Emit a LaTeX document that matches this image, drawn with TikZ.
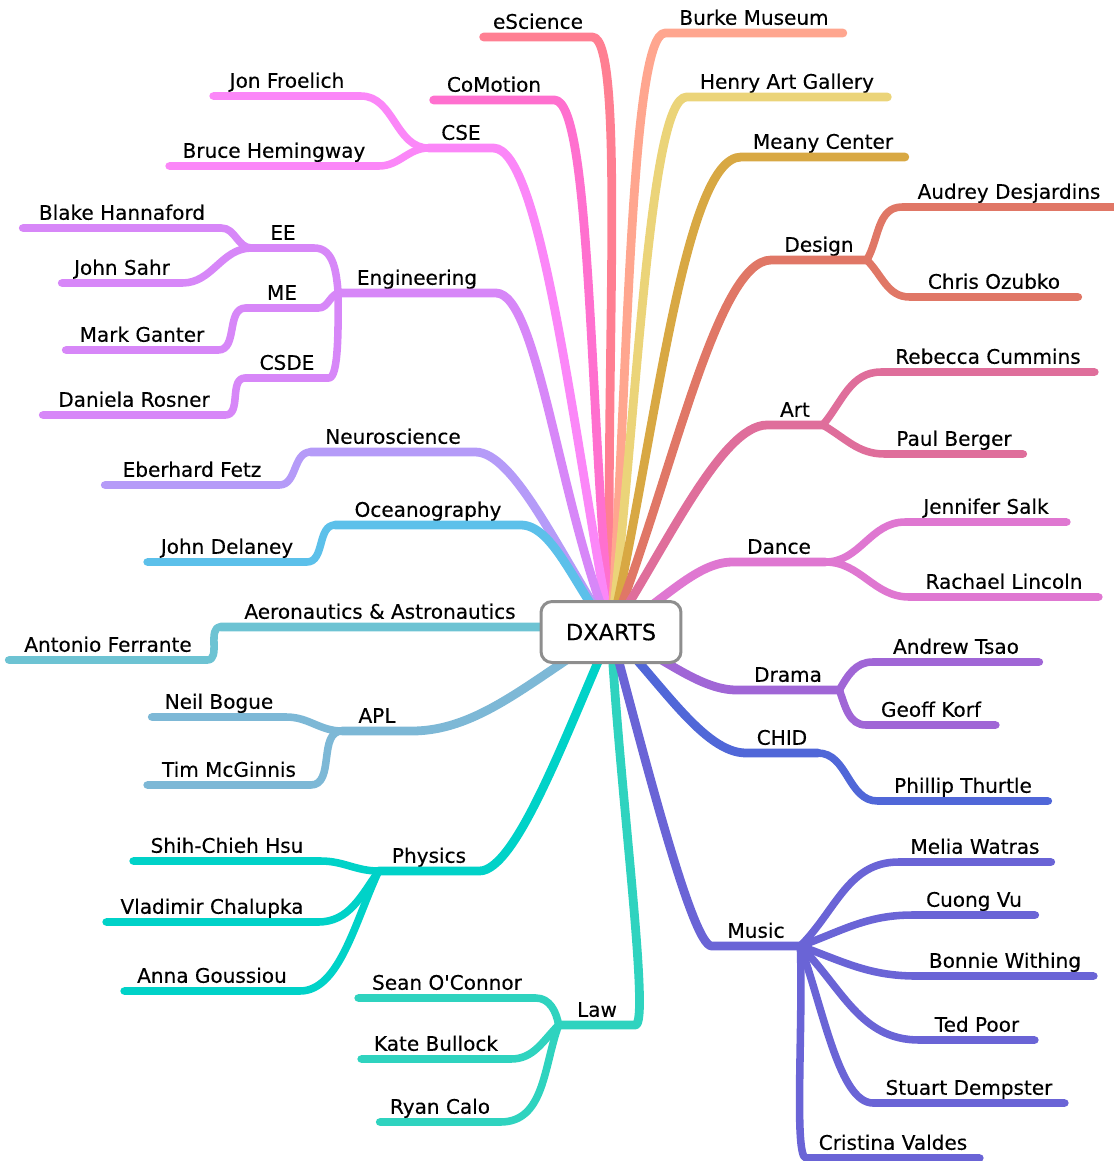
\documentclass[tikz,border=0pt]{standalone}
\usepackage{fontspec}
\setmainfont{DejaVu Sans}
\newfontfamily\lblfont{DejaVu Sans}[FakeBold=0.3]
\definecolor{cEScience}{HTML}{FF7F92}
\definecolor{cCoMotion}{HTML}{FF70CF}
\definecolor{cCSE}{HTML}{FB87F8}
\definecolor{cEng}{HTML}{D787F8}
\definecolor{cNeuro}{HTML}{B59BF8}
\definecolor{cOcean}{HTML}{5CC0EA}
\definecolor{cAero}{HTML}{6DC3D3}
\definecolor{cAPL}{HTML}{7DB8D6}
\definecolor{cPhysics}{HTML}{00D2C8}
\definecolor{cLaw}{HTML}{2FD3BF}
\definecolor{cBurke}{HTML}{FFA68F}
\definecolor{cHenry}{HTML}{EBD479}
\definecolor{cMeany}{HTML}{D8A843}
\definecolor{cDesign}{HTML}{E07766}
\definecolor{cArt}{HTML}{DF6E9B}
\definecolor{cDance}{HTML}{DF77D1}
\definecolor{cDrama}{HTML}{A066D6}
\definecolor{cCHID}{HTML}{5067D8}
\definecolor{cMusic}{HTML}{6A64D6}
\definecolor{cBox}{HTML}{8E8E8E}
\begin{document}
\begin{tikzpicture}[x=0.02cm,y=-0.02cm,line cap=round,line join=round,
		topic/.style={anchor=south,inner xsep=0pt,inner ysep=1.5pt,text height=8.5pt,text depth=3pt,font=\lblfont\fontsize{11.4}{13}\selectfont},
		len/.style={minimum width=#1*0.02cm},
		main/.style={line width=5pt},
		sub/.style={line width=4.3pt}]
	\useasboundingbox (0,0) rectangle (1114,1161);
	\coordinate (hub) at (611,632);
	% left side
	\node[topic,len=108] (escience) at (538,37) {eScience};
	\node[topic,len=120] (comotion) at (494,100) {CoMotion};
	\node[topic,len=64] (cse) at (461,148) {CSE};
	\node[topic,len=147] (jon) at (287,96) {Jon Froelich};
	\node[topic,len=209] (bruce) at (274,166) {Bruce Hemingway};
	\node[topic,len=157] (eng) at (417,293) {Engineering};
	\node[topic,len=62] (ee) at (283,248) {EE};
	\node[topic,len=198] (blake) at (122,228) {Blake Hannaford};
	\node[topic,len=120] (sahr) at (122,283) {John Sahr};
	\node[topic,len=72] (me) at (282,308) {ME};
	\node[topic,len=152] (ganter) at (142,350) {Mark Ganter};
	\node[topic,len=83] (csde) at (287,378) {CSDE};
	\node[topic,len=182] (rosner) at (134,415) {Daniela Rosner};
	\node[topic,len=164] (neuro) at (393,452) {Neuroscience};
	\node[topic,len=174] (fetz) at (192,485) {Eberhard Fetz};
	\node[topic,len=185] (ocean) at (428,525) {Oceanography};
	\node[topic,len=159] (delaney) at (227,562) {John Delaney};
	\node[topic,len=318] (aero) at (380,627) {Aeronautics \& Astronautics};
	\node[topic,len=198] (ferrante) at (108,660) {Antonio Ferrante};
	\node[topic,len=69] (apl) at (377,731) {APL};
	\node[topic,len=134] (bogue) at (219,717) {Neil Bogue};
	\node[topic,len=163] (mcginnis) at (229,785) {Tim McGinnis};
	\node[topic,len=100] (physics) at (429,871) {Physics};
	\node[topic,len=187] (hsu) at (227,861) {Shih-Chieh Hsu};
	\node[topic,len=211] (chalupka) at (212,922) {Vladimir Chalupka};
	\node[topic,len=175] (goussiou) at (212,991) {Anna Goussiou};
	\node[topic,len=76] (law) at (597,1025) {Law};
	\node[topic,len=177] (oconnor) at (447,998) {Sean O\textquotesingle Connor};
	\node[topic,len=149] (bullock) at (436,1059) {Kate Bullock};
	\node[topic,len=120] (calo) at (440,1122) {Ryan Calo};
	% right side
	\node[topic,len=177] (burke) at (754,33) {Burke Museum};
	\node[topic,len=200] (henry) at (787,97) {Henry Art Gallery};
	\node[topic,len=163] (meany) at (823,157) {Meany Center};
	\node[topic,len=95] (design) at (819,260) {Design};
	\node[topic,len=213] (desjardins) at (1009,207) {Audrey Desjardins};
	\node[topic,len=168] (ozubko) at (994,297) {Chris Ozubko};
	\node[topic,len=55] (art) at (795,425) {Art};
	\node[topic,len=213] (cummins) at (988,372) {Rebecca Cummins};
	\node[topic,len=138] (berger) at (954,454) {Paul Berger};
	\node[topic,len=92] (dance) at (779,562) {Dance};
	\node[topic,len=161] (salk) at (986,522) {Jennifer Salk};
	\node[topic,len=189] (lincoln) at (1004,597) {Rachael Lincoln};
	\node[topic,len=102] (drama) at (788,690) {Drama};
	\node[topic,len=166] (tsao) at (956,662) {Andrew Tsao};
	\node[topic,len=129] (korf) at (931,725) {Geoff Korf};
	\node[topic,len=71] (chid) at (782,753) {CHID};
	\node[topic,len=170] (thurtle) at (963,801) {Phillip Thurtle};
	\node[topic,len=88] (music) at (756,946) {Music};
	\node[topic,len=152] (watras) at (975,862) {Melia Watras};
	\node[topic,len=122] (vu) at (974,915) {Cuong Vu};
	\node[topic,len=177] (withing) at (1005,976) {Bonnie Withing};
	\node[topic,len=115] (poor) at (977,1040) {Ted Poor};
	\node[topic,len=191] (dempster) at (969,1103) {Stuart Dempster};
	\node[topic,len=173] (valdes) at (893,1158) {Cristina Valdes};
	% branches to the left
	\draw[main,cEScience] (hub) to[out=92,in=0,in looseness=0.15] (escience.south east) -- (escience.south west);
	\draw[main,cCoMotion] (hub) to[out=96,in=0,in looseness=0.18] (comotion.south east) -- (comotion.south west);
	\draw[main,cCSE] (hub) to[out=101,in=0,in looseness=0.25] (cse.south east) -- (cse.south west);
	\draw[sub,cCSE] (cse.south west) to[out=180,in=0] (jon.south east) -- (jon.south west);
	\draw[sub,cCSE] (cse.south west) to[out=180,in=0] (bruce.south east) -- (bruce.south west);
	\draw[main,cEng] (hub) to[out=112,in=0,in looseness=0.3] (eng.south east) -- (eng.south west);
	\draw[sub,cEng] (eng.south west) to[out=95,in=0] (ee.south east) -- (ee.south west);
	\draw[sub,cEng] (ee.south west) to[out=180,in=0] (blake.south east) -- (blake.south west);
	\draw[sub,cEng] (ee.south west) to[out=180,in=0] (sahr.south east) -- (sahr.south west);
	\draw[sub,cEng] (eng.south west) to[out=200,in=0] (me.south east) -- (me.south west);
	\draw[sub,cEng] (me.south west) to[out=180,in=0] (ganter.south east) -- (ganter.south west);
	\draw[sub,cEng] (eng.south west) to[out=-90,in=0,in looseness=0.3] (csde.south east) -- (csde.south west);
	\draw[sub,cEng] (csde.south west) to[out=180,in=0] (rosner.south east) -- (rosner.south west);
	\draw[main,cNeuro] (hub) to[out=124,in=0,in looseness=0.45] (neuro.south east) -- (neuro.south west);
	\draw[sub,cNeuro] (neuro.south west) to[out=180,in=0] (fetz.south east) -- (fetz.south west);
	\draw[main,cOcean] (hub) to[out=130,in=0,in looseness=0.6] (ocean.south east) -- (ocean.south west);
	\draw[sub,cOcean] (ocean.south west) to[out=180,in=0] (delaney.south east) -- (delaney.south west);
	\draw[main,cAero] (hub) -- (aero.south east) -- (aero.south west);
	\draw[sub,cAero] (aero.south west) to[out=180,in=0] (ferrante.south east) -- (ferrante.south west);
	\draw[main,cAPL] (hub) to[out=210,in=0,in looseness=0.8] (apl.south east) -- (apl.south west);
	\draw[sub,cAPL] (apl.south west) to[out=180,in=0] (bogue.south east) -- (bogue.south west);
	\draw[sub,cAPL] (apl.south west) to[out=180,in=0] (mcginnis.south east) -- (mcginnis.south west);
	\draw[main,cPhysics] (hub) to[out=246,in=0,in looseness=0.35] (physics.south east) -- (physics.south west);
	\draw[sub,cPhysics] (physics.south west) to[out=180,in=0] (hsu.south east) -- (hsu.south west);
	\draw[sub,cPhysics] (physics.south west) to[out=235,in=0] (chalupka.south east) -- (chalupka.south west);
	\draw[sub,cPhysics] (physics.south west) to[out=245,in=0,in looseness=0.7] (goussiou.south east) -- (goussiou.south west);
	\draw[main,cLaw] (hub) to[out=-87,in=0,in looseness=0.1] (law.south east) -- (law.south west);
	\draw[sub,cLaw] (law.south west) to[out=100,in=0] (oconnor.south east) -- (oconnor.south west);
	\draw[sub,cLaw] (law.south west) to[out=225,in=0] (bullock.south east) -- (bullock.south west);
	\draw[sub,cLaw] (law.south west) to[out=250,in=0] (calo.south east) -- (calo.south west);
	% branches to the right
	\draw[main,cBurke] (hub) to[out=86,in=180,in looseness=0.15] (burke.south west) -- (burke.south east);
	\draw[main,cHenry] (hub) to[out=83,in=180,in looseness=0.18] (henry.south west) -- (henry.south east);
	\draw[main,cMeany] (hub) to[out=77,in=180,in looseness=0.3] (meany.south west) -- (meany.south east);
	\draw[main,cDesign] (hub) to[out=68,in=180,in looseness=0.35] (design.south west) -- (design.south east);
	\draw[sub,cDesign] (design.south east) to[out=60,in=180] (desjardins.south west) -- (desjardins.south east);
	\draw[sub,cDesign] (design.south east) to[out=-45,in=180] (ozubko.south west) -- (ozubko.south east);
	\draw[main,cArt] (hub) to[out=57,in=180,in looseness=0.45] (art.south west) -- (art.south east);
	\draw[sub,cArt] (art.south east) to[out=50,in=180] (cummins.south west) -- (cummins.south east);
	\draw[sub,cArt] (art.south east) to[out=-30,in=180] (berger.south west) -- (berger.south east);
	\draw[main,cDance] (hub) to[out=28,in=180,in looseness=0.7] (dance.south west) -- (dance.south east);
	\draw[sub,cDance] (dance.south east) to[out=0,in=180] (salk.south west) -- (salk.south east);
	\draw[sub,cDance] (dance.south east) to[out=0,in=180] (lincoln.south west) -- (lincoln.south east);
	\draw[main,cDrama] (hub) to[out=-25,in=180,in looseness=0.7] (drama.south west) -- (drama.south east);
	\draw[sub,cDrama] (drama.south east) to[out=60,in=180] (tsao.south west) -- (tsao.south east);
	\draw[sub,cDrama] (drama.south east) to[out=-70,in=180] (korf.south west) -- (korf.south east);
	\draw[main,cCHID] (hub) to[out=-45,in=180,in looseness=0.6] (chid.south west) -- (chid.south east);
	\draw[sub,cCHID] (chid.south east) to[out=0,in=180] (thurtle.south west) -- (thurtle.south east);
	\draw[main,cMusic] (hub) to[out=-75,in=180,in looseness=0.15] (music.south west) -- (music.south east);
	\draw[sub,cMusic] (music.south east) to[out=45,in=180] (watras.south west) -- (watras.south east);
	\draw[sub,cMusic] (music.south east) to[out=20,in=180] (vu.south west) -- (vu.south east);
	\draw[sub,cMusic] (music.south east) to[out=-20,in=180] (withing.south west) -- (withing.south east);
	\draw[sub,cMusic] (music.south east) to[out=-45,in=180] (poor.south west) -- (poor.south east);
	\draw[sub,cMusic] (music.south east) to[out=-70,in=180,in looseness=0.5] (dempster.south west) -- (dempster.south east);
	\draw[sub,cMusic] (music.south east) to[out=-88,in=180,in looseness=0.15] (valdes.south west) -- (valdes.south east);
	% centre
	\node[draw=cBox,fill=white,line width=1.7pt,rounded corners=0.22cm,minimum width=2.8cm,minimum height=1.22cm,font=\lblfont\fontsize{12.8}{15}\selectfont] (dx) at (hub) {DXARTS};
\end{tikzpicture}
\end{document}
